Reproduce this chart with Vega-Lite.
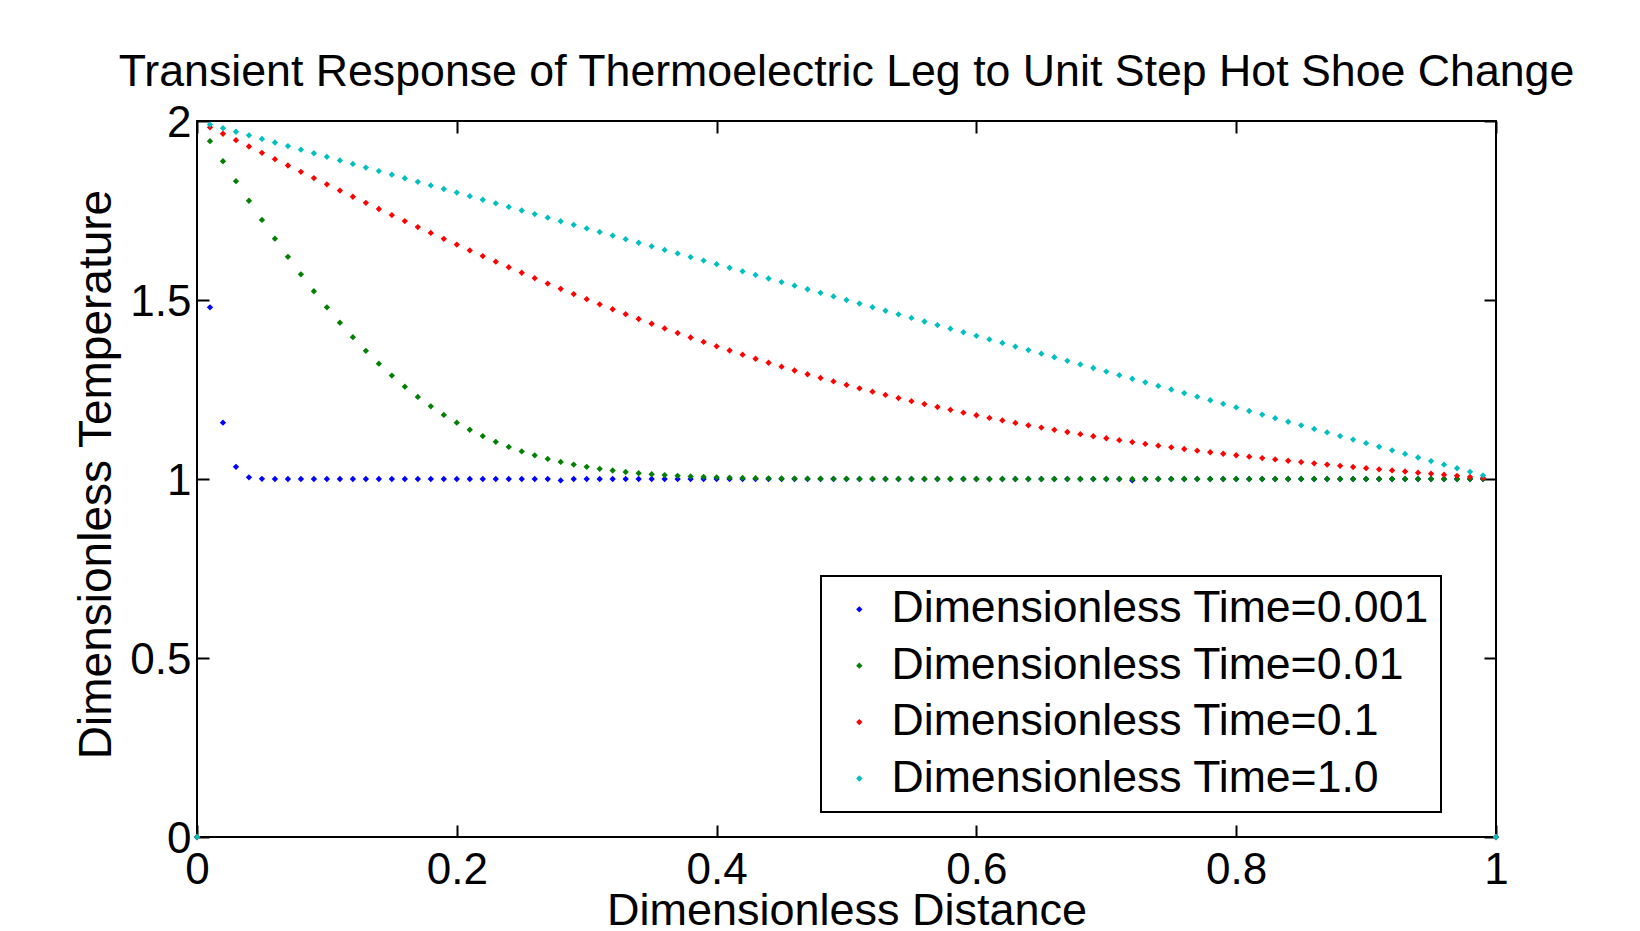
{
"$schema": "https://vega.github.io/schema/vega-lite/v6.json",
"width": 1299, "height": 716,
"autosize": "none",
"padding": {"left": 197, "top": 121, "right": 144, "bottom": 94},
"background": "white",
"config": {"font": "Liberation Sans", "view": {"stroke": "black", "strokeWidth": 2}, "legend": {"strokeWidth": 2}},
"title": {"text": "Transient Response of Thermoelectric Leg to Unit Step Hot Shoe Change", "fontSize": 44.7, "font": "Liberation Sans", "fontWeight": "normal", "color": "black", "frame": "group", "anchor": "middle", "baseline": "alphabetic", "offset": 34, "dy": 64},
"layer": [
{
"data": {"values": [
{"s":"Dimensionless Time=0.001","x":0,"T":0},{"s":"Dimensionless Time=0.001","x":0.01,"T":1.4795},{"s":"Dimensionless Time=0.001","x":0.02,"T":1.1573},{"s":"Dimensionless Time=0.001","x":0.03,"T":1.0339},{"s":"Dimensionless Time=0.001","x":0.04,"T":1.0047},{"s":"Dimensionless Time=0.001","x":0.05,"T":1.0004},{"s":"Dimensionless Time=0.001","x":0.06,"T":1},{"s":"Dimensionless Time=0.001","x":0.07,"T":1},{"s":"Dimensionless Time=0.001","x":0.08,"T":1},{"s":"Dimensionless Time=0.001","x":0.09,"T":1},{"s":"Dimensionless Time=0.001","x":0.1,"T":1},{"s":"Dimensionless Time=0.001","x":0.11,"T":1},{"s":"Dimensionless Time=0.001","x":0.12,"T":1},{"s":"Dimensionless Time=0.001","x":0.13,"T":1},{"s":"Dimensionless Time=0.001","x":0.14,"T":1},{"s":"Dimensionless Time=0.001","x":0.15,"T":1},{"s":"Dimensionless Time=0.001","x":0.16,"T":1},{"s":"Dimensionless Time=0.001","x":0.17,"T":1},{"s":"Dimensionless Time=0.001","x":0.18,"T":1},{"s":"Dimensionless Time=0.001","x":0.19,"T":1},{"s":"Dimensionless Time=0.001","x":0.2,"T":1},{"s":"Dimensionless Time=0.001","x":0.21,"T":1},{"s":"Dimensionless Time=0.001","x":0.22,"T":1},{"s":"Dimensionless Time=0.001","x":0.23,"T":1},{"s":"Dimensionless Time=0.001","x":0.24,"T":1},{"s":"Dimensionless Time=0.001","x":0.25,"T":1},{"s":"Dimensionless Time=0.001","x":0.26,"T":1},{"s":"Dimensionless Time=0.001","x":0.27,"T":1},{"s":"Dimensionless Time=0.001","x":0.28,"T":0.996},{"s":"Dimensionless Time=0.001","x":0.29,"T":1},{"s":"Dimensionless Time=0.001","x":0.3,"T":1},{"s":"Dimensionless Time=0.001","x":0.31,"T":1},{"s":"Dimensionless Time=0.001","x":0.32,"T":1},{"s":"Dimensionless Time=0.001","x":0.33,"T":1},{"s":"Dimensionless Time=0.001","x":0.34,"T":1},{"s":"Dimensionless Time=0.001","x":0.35,"T":1},{"s":"Dimensionless Time=0.001","x":0.36,"T":1},{"s":"Dimensionless Time=0.001","x":0.37,"T":1},{"s":"Dimensionless Time=0.001","x":0.38,"T":1},{"s":"Dimensionless Time=0.001","x":0.39,"T":1},{"s":"Dimensionless Time=0.001","x":0.4,"T":1},{"s":"Dimensionless Time=0.001","x":0.41,"T":1},{"s":"Dimensionless Time=0.001","x":0.42,"T":1},{"s":"Dimensionless Time=0.001","x":0.43,"T":1},{"s":"Dimensionless Time=0.001","x":0.44,"T":1},{"s":"Dimensionless Time=0.001","x":0.45,"T":1},{"s":"Dimensionless Time=0.001","x":0.46,"T":1},{"s":"Dimensionless Time=0.001","x":0.47,"T":1},{"s":"Dimensionless Time=0.001","x":0.48,"T":1},{"s":"Dimensionless Time=0.001","x":0.49,"T":1},{"s":"Dimensionless Time=0.001","x":0.5,"T":1},{"s":"Dimensionless Time=0.001","x":0.51,"T":1},{"s":"Dimensionless Time=0.001","x":0.52,"T":1},{"s":"Dimensionless Time=0.001","x":0.53,"T":1},{"s":"Dimensionless Time=0.001","x":0.54,"T":1},{"s":"Dimensionless Time=0.001","x":0.55,"T":1},{"s":"Dimensionless Time=0.001","x":0.56,"T":1},{"s":"Dimensionless Time=0.001","x":0.57,"T":1},{"s":"Dimensionless Time=0.001","x":0.58,"T":1},{"s":"Dimensionless Time=0.001","x":0.59,"T":1},{"s":"Dimensionless Time=0.001","x":0.6,"T":1},{"s":"Dimensionless Time=0.001","x":0.61,"T":1},{"s":"Dimensionless Time=0.001","x":0.62,"T":1},{"s":"Dimensionless Time=0.001","x":0.63,"T":1},{"s":"Dimensionless Time=0.001","x":0.64,"T":1},{"s":"Dimensionless Time=0.001","x":0.65,"T":1},{"s":"Dimensionless Time=0.001","x":0.66,"T":1},{"s":"Dimensionless Time=0.001","x":0.67,"T":1},{"s":"Dimensionless Time=0.001","x":0.68,"T":1},{"s":"Dimensionless Time=0.001","x":0.69,"T":1},{"s":"Dimensionless Time=0.001","x":0.7,"T":1},{"s":"Dimensionless Time=0.001","x":0.71,"T":1},{"s":"Dimensionless Time=0.001","x":0.72,"T":0.996},{"s":"Dimensionless Time=0.001","x":0.73,"T":1},{"s":"Dimensionless Time=0.001","x":0.74,"T":1},{"s":"Dimensionless Time=0.001","x":0.75,"T":1},{"s":"Dimensionless Time=0.001","x":0.76,"T":1},{"s":"Dimensionless Time=0.001","x":0.77,"T":1},{"s":"Dimensionless Time=0.001","x":0.78,"T":1},{"s":"Dimensionless Time=0.001","x":0.79,"T":1},{"s":"Dimensionless Time=0.001","x":0.8,"T":1},{"s":"Dimensionless Time=0.001","x":0.81,"T":1},{"s":"Dimensionless Time=0.001","x":0.82,"T":1},{"s":"Dimensionless Time=0.001","x":0.83,"T":1},{"s":"Dimensionless Time=0.001","x":0.84,"T":1},{"s":"Dimensionless Time=0.001","x":0.85,"T":1},{"s":"Dimensionless Time=0.001","x":0.86,"T":1},{"s":"Dimensionless Time=0.001","x":0.87,"T":1},{"s":"Dimensionless Time=0.001","x":0.88,"T":1},{"s":"Dimensionless Time=0.001","x":0.89,"T":1},{"s":"Dimensionless Time=0.001","x":0.9,"T":1},{"s":"Dimensionless Time=0.001","x":0.91,"T":1},{"s":"Dimensionless Time=0.001","x":0.92,"T":1},{"s":"Dimensionless Time=0.001","x":0.93,"T":1},{"s":"Dimensionless Time=0.001","x":0.94,"T":1},{"s":"Dimensionless Time=0.001","x":0.95,"T":1},{"s":"Dimensionless Time=0.001","x":0.96,"T":1},{"s":"Dimensionless Time=0.001","x":0.97,"T":1},{"s":"Dimensionless Time=0.001","x":0.98,"T":1},{"s":"Dimensionless Time=0.001","x":0.99,"T":1},{"s":"Dimensionless Time=0.001","x":1,"T":0},
{"s":"Dimensionless Time=0.01","x":0,"T":0},{"s":"Dimensionless Time=0.01","x":0.01,"T":1.9436},{"s":"Dimensionless Time=0.01","x":0.02,"T":1.8875},{"s":"Dimensionless Time=0.01","x":0.03,"T":1.832},{"s":"Dimensionless Time=0.01","x":0.04,"T":1.7773},{"s":"Dimensionless Time=0.01","x":0.05,"T":1.7237},{"s":"Dimensionless Time=0.01","x":0.06,"T":1.6714},{"s":"Dimensionless Time=0.01","x":0.07,"T":1.6206},{"s":"Dimensionless Time=0.01","x":0.08,"T":1.5716},{"s":"Dimensionless Time=0.01","x":0.09,"T":1.5245},{"s":"Dimensionless Time=0.01","x":0.1,"T":1.4795},{"s":"Dimensionless Time=0.01","x":0.11,"T":1.4367},{"s":"Dimensionless Time=0.01","x":0.12,"T":1.3961},{"s":"Dimensionless Time=0.01","x":0.13,"T":1.358},{"s":"Dimensionless Time=0.01","x":0.14,"T":1.3222},{"s":"Dimensionless Time=0.01","x":0.15,"T":1.2888},{"s":"Dimensionless Time=0.01","x":0.16,"T":1.2579},{"s":"Dimensionless Time=0.01","x":0.17,"T":1.2293},{"s":"Dimensionless Time=0.01","x":0.18,"T":1.2031},{"s":"Dimensionless Time=0.01","x":0.19,"T":1.1791},{"s":"Dimensionless Time=0.01","x":0.2,"T":1.1573},{"s":"Dimensionless Time=0.01","x":0.21,"T":1.1376},{"s":"Dimensionless Time=0.01","x":0.22,"T":1.1198},{"s":"Dimensionless Time=0.01","x":0.23,"T":1.1039},{"s":"Dimensionless Time=0.01","x":0.24,"T":1.0897},{"s":"Dimensionless Time=0.01","x":0.25,"T":1.0771},{"s":"Dimensionless Time=0.01","x":0.26,"T":1.066},{"s":"Dimensionless Time=0.01","x":0.27,"T":1.0562},{"s":"Dimensionless Time=0.01","x":0.28,"T":1.0477},{"s":"Dimensionless Time=0.01","x":0.29,"T":1.0403},{"s":"Dimensionless Time=0.01","x":0.3,"T":1.0339},{"s":"Dimensionless Time=0.01","x":0.31,"T":1.0284},{"s":"Dimensionless Time=0.01","x":0.32,"T":1.0237},{"s":"Dimensionless Time=0.01","x":0.33,"T":1.0196},{"s":"Dimensionless Time=0.01","x":0.34,"T":1.0162},{"s":"Dimensionless Time=0.01","x":0.35,"T":1.0133},{"s":"Dimensionless Time=0.01","x":0.36,"T":1.0109},{"s":"Dimensionless Time=0.01","x":0.37,"T":1.0089},{"s":"Dimensionless Time=0.01","x":0.38,"T":1.0072},{"s":"Dimensionless Time=0.01","x":0.39,"T":1.0058},{"s":"Dimensionless Time=0.01","x":0.4,"T":1.0047},{"s":"Dimensionless Time=0.01","x":0.41,"T":1.0037},{"s":"Dimensionless Time=0.01","x":0.42,"T":1.003},{"s":"Dimensionless Time=0.01","x":0.43,"T":1.0024},{"s":"Dimensionless Time=0.01","x":0.44,"T":1.0019},{"s":"Dimensionless Time=0.01","x":0.45,"T":1.0015},{"s":"Dimensionless Time=0.01","x":0.46,"T":1.0011},{"s":"Dimensionless Time=0.01","x":0.47,"T":1.0009},{"s":"Dimensionless Time=0.01","x":0.48,"T":1.0007},{"s":"Dimensionless Time=0.01","x":0.49,"T":1.0005},{"s":"Dimensionless Time=0.01","x":0.5,"T":1.0004},{"s":"Dimensionless Time=0.01","x":0.51,"T":1.0003},{"s":"Dimensionless Time=0.01","x":0.52,"T":1.0002},{"s":"Dimensionless Time=0.01","x":0.53,"T":1.0001},{"s":"Dimensionless Time=0.01","x":0.54,"T":1.0001},{"s":"Dimensionless Time=0.01","x":0.55,"T":1},{"s":"Dimensionless Time=0.01","x":0.56,"T":1},{"s":"Dimensionless Time=0.01","x":0.57,"T":1},{"s":"Dimensionless Time=0.01","x":0.58,"T":1},{"s":"Dimensionless Time=0.01","x":0.59,"T":1},{"s":"Dimensionless Time=0.01","x":0.6,"T":1},{"s":"Dimensionless Time=0.01","x":0.61,"T":1},{"s":"Dimensionless Time=0.01","x":0.62,"T":1},{"s":"Dimensionless Time=0.01","x":0.63,"T":1},{"s":"Dimensionless Time=0.01","x":0.64,"T":1},{"s":"Dimensionless Time=0.01","x":0.65,"T":1},{"s":"Dimensionless Time=0.01","x":0.66,"T":1},{"s":"Dimensionless Time=0.01","x":0.67,"T":1},{"s":"Dimensionless Time=0.01","x":0.68,"T":1},{"s":"Dimensionless Time=0.01","x":0.69,"T":1},{"s":"Dimensionless Time=0.01","x":0.7,"T":1},{"s":"Dimensionless Time=0.01","x":0.71,"T":1},{"s":"Dimensionless Time=0.01","x":0.72,"T":1},{"s":"Dimensionless Time=0.01","x":0.73,"T":1},{"s":"Dimensionless Time=0.01","x":0.74,"T":1},{"s":"Dimensionless Time=0.01","x":0.75,"T":1},{"s":"Dimensionless Time=0.01","x":0.76,"T":1},{"s":"Dimensionless Time=0.01","x":0.77,"T":1},{"s":"Dimensionless Time=0.01","x":0.78,"T":1},{"s":"Dimensionless Time=0.01","x":0.79,"T":1},{"s":"Dimensionless Time=0.01","x":0.8,"T":1},{"s":"Dimensionless Time=0.01","x":0.81,"T":1},{"s":"Dimensionless Time=0.01","x":0.82,"T":1},{"s":"Dimensionless Time=0.01","x":0.83,"T":1},{"s":"Dimensionless Time=0.01","x":0.84,"T":1},{"s":"Dimensionless Time=0.01","x":0.85,"T":1},{"s":"Dimensionless Time=0.01","x":0.86,"T":1},{"s":"Dimensionless Time=0.01","x":0.87,"T":1},{"s":"Dimensionless Time=0.01","x":0.88,"T":1},{"s":"Dimensionless Time=0.01","x":0.89,"T":1},{"s":"Dimensionless Time=0.01","x":0.9,"T":1},{"s":"Dimensionless Time=0.01","x":0.91,"T":1},{"s":"Dimensionless Time=0.01","x":0.92,"T":1},{"s":"Dimensionless Time=0.01","x":0.93,"T":1},{"s":"Dimensionless Time=0.01","x":0.94,"T":1},{"s":"Dimensionless Time=0.01","x":0.95,"T":1},{"s":"Dimensionless Time=0.01","x":0.96,"T":1},{"s":"Dimensionless Time=0.01","x":0.97,"T":1},{"s":"Dimensionless Time=0.01","x":0.98,"T":1},{"s":"Dimensionless Time=0.01","x":0.99,"T":1},{"s":"Dimensionless Time=0.01","x":1,"T":0},
{"s":"Dimensionless Time=0.1","x":0,"T":0},{"s":"Dimensionless Time=0.1","x":0.01,"T":1.9822},{"s":"Dimensionless Time=0.1","x":0.02,"T":1.9643},{"s":"Dimensionless Time=0.1","x":0.03,"T":1.9465},{"s":"Dimensionless Time=0.1","x":0.04,"T":1.9287},{"s":"Dimensionless Time=0.1","x":0.05,"T":1.911},{"s":"Dimensionless Time=0.1","x":0.06,"T":1.8933},{"s":"Dimensionless Time=0.1","x":0.07,"T":1.8756},{"s":"Dimensionless Time=0.1","x":0.08,"T":1.858},{"s":"Dimensionless Time=0.1","x":0.09,"T":1.8405},{"s":"Dimensionless Time=0.1","x":0.1,"T":1.8231},{"s":"Dimensionless Time=0.1","x":0.11,"T":1.8057},{"s":"Dimensionless Time=0.1","x":0.12,"T":1.7885},{"s":"Dimensionless Time=0.1","x":0.13,"T":1.7713},{"s":"Dimensionless Time=0.1","x":0.14,"T":1.7542},{"s":"Dimensionless Time=0.1","x":0.15,"T":1.7373},{"s":"Dimensionless Time=0.1","x":0.16,"T":1.7205},{"s":"Dimensionless Time=0.1","x":0.17,"T":1.7038},{"s":"Dimensionless Time=0.1","x":0.18,"T":1.6873},{"s":"Dimensionless Time=0.1","x":0.19,"T":1.6709},{"s":"Dimensionless Time=0.1","x":0.2,"T":1.6547},{"s":"Dimensionless Time=0.1","x":0.21,"T":1.6386},{"s":"Dimensionless Time=0.1","x":0.22,"T":1.6227},{"s":"Dimensionless Time=0.1","x":0.23,"T":1.607},{"s":"Dimensionless Time=0.1","x":0.24,"T":1.5914},{"s":"Dimensionless Time=0.1","x":0.25,"T":1.5761},{"s":"Dimensionless Time=0.1","x":0.26,"T":1.5609},{"s":"Dimensionless Time=0.1","x":0.27,"T":1.5459},{"s":"Dimensionless Time=0.1","x":0.28,"T":1.5311},{"s":"Dimensionless Time=0.1","x":0.29,"T":1.5166},{"s":"Dimensionless Time=0.1","x":0.3,"T":1.5022},{"s":"Dimensionless Time=0.1","x":0.31,"T":1.488},{"s":"Dimensionless Time=0.1","x":0.32,"T":1.4741},{"s":"Dimensionless Time=0.1","x":0.33,"T":1.4604},{"s":"Dimensionless Time=0.1","x":0.34,"T":1.4469},{"s":"Dimensionless Time=0.1","x":0.35,"T":1.4336},{"s":"Dimensionless Time=0.1","x":0.36,"T":1.4206},{"s":"Dimensionless Time=0.1","x":0.37,"T":1.4078},{"s":"Dimensionless Time=0.1","x":0.38,"T":1.3952},{"s":"Dimensionless Time=0.1","x":0.39,"T":1.3828},{"s":"Dimensionless Time=0.1","x":0.4,"T":1.3707},{"s":"Dimensionless Time=0.1","x":0.41,"T":1.3589},{"s":"Dimensionless Time=0.1","x":0.42,"T":1.3472},{"s":"Dimensionless Time=0.1","x":0.43,"T":1.3358},{"s":"Dimensionless Time=0.1","x":0.44,"T":1.3247},{"s":"Dimensionless Time=0.1","x":0.45,"T":1.3138},{"s":"Dimensionless Time=0.1","x":0.46,"T":1.3031},{"s":"Dimensionless Time=0.1","x":0.47,"T":1.2926},{"s":"Dimensionless Time=0.1","x":0.48,"T":1.2824},{"s":"Dimensionless Time=0.1","x":0.49,"T":1.2725},{"s":"Dimensionless Time=0.1","x":0.5,"T":1.2627},{"s":"Dimensionless Time=0.1","x":0.51,"T":1.2532},{"s":"Dimensionless Time=0.1","x":0.52,"T":1.244},{"s":"Dimensionless Time=0.1","x":0.53,"T":1.2349},{"s":"Dimensionless Time=0.1","x":0.54,"T":1.2261},{"s":"Dimensionless Time=0.1","x":0.55,"T":1.2175},{"s":"Dimensionless Time=0.1","x":0.56,"T":1.2092},{"s":"Dimensionless Time=0.1","x":0.57,"T":1.2011},{"s":"Dimensionless Time=0.1","x":0.58,"T":1.1931},{"s":"Dimensionless Time=0.1","x":0.59,"T":1.1854},{"s":"Dimensionless Time=0.1","x":0.6,"T":1.178},{"s":"Dimensionless Time=0.1","x":0.61,"T":1.1707},{"s":"Dimensionless Time=0.1","x":0.62,"T":1.1636},{"s":"Dimensionless Time=0.1","x":0.63,"T":1.1567},{"s":"Dimensionless Time=0.1","x":0.64,"T":1.15},{"s":"Dimensionless Time=0.1","x":0.65,"T":1.1436},{"s":"Dimensionless Time=0.1","x":0.66,"T":1.1373},{"s":"Dimensionless Time=0.1","x":0.67,"T":1.1312},{"s":"Dimensionless Time=0.1","x":0.68,"T":1.1252},{"s":"Dimensionless Time=0.1","x":0.69,"T":1.1195},{"s":"Dimensionless Time=0.1","x":0.7,"T":1.1139},{"s":"Dimensionless Time=0.1","x":0.71,"T":1.1085},{"s":"Dimensionless Time=0.1","x":0.72,"T":1.1032},{"s":"Dimensionless Time=0.1","x":0.73,"T":1.0981},{"s":"Dimensionless Time=0.1","x":0.74,"T":1.0932},{"s":"Dimensionless Time=0.1","x":0.75,"T":1.0884},{"s":"Dimensionless Time=0.1","x":0.76,"T":1.0837},{"s":"Dimensionless Time=0.1","x":0.77,"T":1.0792},{"s":"Dimensionless Time=0.1","x":0.78,"T":1.0748},{"s":"Dimensionless Time=0.1","x":0.79,"T":1.0705},{"s":"Dimensionless Time=0.1","x":0.8,"T":1.0664},{"s":"Dimensionless Time=0.1","x":0.81,"T":1.0623},{"s":"Dimensionless Time=0.1","x":0.82,"T":1.0584},{"s":"Dimensionless Time=0.1","x":0.83,"T":1.0546},{"s":"Dimensionless Time=0.1","x":0.84,"T":1.0509},{"s":"Dimensionless Time=0.1","x":0.85,"T":1.0473},{"s":"Dimensionless Time=0.1","x":0.86,"T":1.0437},{"s":"Dimensionless Time=0.1","x":0.87,"T":1.0402},{"s":"Dimensionless Time=0.1","x":0.88,"T":1.0369},{"s":"Dimensionless Time=0.1","x":0.89,"T":1.0335},{"s":"Dimensionless Time=0.1","x":0.9,"T":1.0303},{"s":"Dimensionless Time=0.1","x":0.91,"T":1.0271},{"s":"Dimensionless Time=0.1","x":0.92,"T":1.024},{"s":"Dimensionless Time=0.1","x":0.93,"T":1.0209},{"s":"Dimensionless Time=0.1","x":0.94,"T":1.0178},{"s":"Dimensionless Time=0.1","x":0.95,"T":1.0148},{"s":"Dimensionless Time=0.1","x":0.96,"T":1.0118},{"s":"Dimensionless Time=0.1","x":0.97,"T":1.0088},{"s":"Dimensionless Time=0.1","x":0.98,"T":1.0059},{"s":"Dimensionless Time=0.1","x":0.99,"T":1.0029},{"s":"Dimensionless Time=0.1","x":1,"T":0},
{"s":"Dimensionless Time=1.0","x":0,"T":0},{"s":"Dimensionless Time=1.0","x":0.01,"T":1.99},{"s":"Dimensionless Time=1.0","x":0.02,"T":1.98},{"s":"Dimensionless Time=1.0","x":0.03,"T":1.97},{"s":"Dimensionless Time=1.0","x":0.04,"T":1.96},{"s":"Dimensionless Time=1.0","x":0.05,"T":1.95},{"s":"Dimensionless Time=1.0","x":0.06,"T":1.94},{"s":"Dimensionless Time=1.0","x":0.07,"T":1.93},{"s":"Dimensionless Time=1.0","x":0.08,"T":1.92},{"s":"Dimensionless Time=1.0","x":0.09,"T":1.91},{"s":"Dimensionless Time=1.0","x":0.1,"T":1.9},{"s":"Dimensionless Time=1.0","x":0.11,"T":1.89},{"s":"Dimensionless Time=1.0","x":0.12,"T":1.88},{"s":"Dimensionless Time=1.0","x":0.13,"T":1.87},{"s":"Dimensionless Time=1.0","x":0.14,"T":1.86},{"s":"Dimensionless Time=1.0","x":0.15,"T":1.85},{"s":"Dimensionless Time=1.0","x":0.16,"T":1.84},{"s":"Dimensionless Time=1.0","x":0.17,"T":1.83},{"s":"Dimensionless Time=1.0","x":0.18,"T":1.82},{"s":"Dimensionless Time=1.0","x":0.19,"T":1.81},{"s":"Dimensionless Time=1.0","x":0.2,"T":1.8},{"s":"Dimensionless Time=1.0","x":0.21,"T":1.79},{"s":"Dimensionless Time=1.0","x":0.22,"T":1.78},{"s":"Dimensionless Time=1.0","x":0.23,"T":1.77},{"s":"Dimensionless Time=1.0","x":0.24,"T":1.76},{"s":"Dimensionless Time=1.0","x":0.25,"T":1.75},{"s":"Dimensionless Time=1.0","x":0.26,"T":1.74},{"s":"Dimensionless Time=1.0","x":0.27,"T":1.73},{"s":"Dimensionless Time=1.0","x":0.28,"T":1.72},{"s":"Dimensionless Time=1.0","x":0.29,"T":1.71},{"s":"Dimensionless Time=1.0","x":0.3,"T":1.7},{"s":"Dimensionless Time=1.0","x":0.31,"T":1.69},{"s":"Dimensionless Time=1.0","x":0.32,"T":1.68},{"s":"Dimensionless Time=1.0","x":0.33,"T":1.67},{"s":"Dimensionless Time=1.0","x":0.34,"T":1.66},{"s":"Dimensionless Time=1.0","x":0.35,"T":1.65},{"s":"Dimensionless Time=1.0","x":0.36,"T":1.64},{"s":"Dimensionless Time=1.0","x":0.37,"T":1.63},{"s":"Dimensionless Time=1.0","x":0.38,"T":1.62},{"s":"Dimensionless Time=1.0","x":0.39,"T":1.61},{"s":"Dimensionless Time=1.0","x":0.4,"T":1.6},{"s":"Dimensionless Time=1.0","x":0.41,"T":1.59},{"s":"Dimensionless Time=1.0","x":0.42,"T":1.58},{"s":"Dimensionless Time=1.0","x":0.43,"T":1.57},{"s":"Dimensionless Time=1.0","x":0.44,"T":1.56},{"s":"Dimensionless Time=1.0","x":0.45,"T":1.55},{"s":"Dimensionless Time=1.0","x":0.46,"T":1.54},{"s":"Dimensionless Time=1.0","x":0.47,"T":1.53},{"s":"Dimensionless Time=1.0","x":0.48,"T":1.52},{"s":"Dimensionless Time=1.0","x":0.49,"T":1.51},{"s":"Dimensionless Time=1.0","x":0.5,"T":1.5},{"s":"Dimensionless Time=1.0","x":0.51,"T":1.49},{"s":"Dimensionless Time=1.0","x":0.52,"T":1.48},{"s":"Dimensionless Time=1.0","x":0.53,"T":1.47},{"s":"Dimensionless Time=1.0","x":0.54,"T":1.46},{"s":"Dimensionless Time=1.0","x":0.55,"T":1.45},{"s":"Dimensionless Time=1.0","x":0.56,"T":1.44},{"s":"Dimensionless Time=1.0","x":0.57,"T":1.43},{"s":"Dimensionless Time=1.0","x":0.58,"T":1.42},{"s":"Dimensionless Time=1.0","x":0.59,"T":1.41},{"s":"Dimensionless Time=1.0","x":0.6,"T":1.4},{"s":"Dimensionless Time=1.0","x":0.61,"T":1.39},{"s":"Dimensionless Time=1.0","x":0.62,"T":1.38},{"s":"Dimensionless Time=1.0","x":0.63,"T":1.37},{"s":"Dimensionless Time=1.0","x":0.64,"T":1.36},{"s":"Dimensionless Time=1.0","x":0.65,"T":1.35},{"s":"Dimensionless Time=1.0","x":0.66,"T":1.34},{"s":"Dimensionless Time=1.0","x":0.67,"T":1.33},{"s":"Dimensionless Time=1.0","x":0.68,"T":1.32},{"s":"Dimensionless Time=1.0","x":0.69,"T":1.31},{"s":"Dimensionless Time=1.0","x":0.7,"T":1.3},{"s":"Dimensionless Time=1.0","x":0.71,"T":1.29},{"s":"Dimensionless Time=1.0","x":0.72,"T":1.28},{"s":"Dimensionless Time=1.0","x":0.73,"T":1.27},{"s":"Dimensionless Time=1.0","x":0.74,"T":1.26},{"s":"Dimensionless Time=1.0","x":0.75,"T":1.25},{"s":"Dimensionless Time=1.0","x":0.76,"T":1.24},{"s":"Dimensionless Time=1.0","x":0.77,"T":1.23},{"s":"Dimensionless Time=1.0","x":0.78,"T":1.22},{"s":"Dimensionless Time=1.0","x":0.79,"T":1.21},{"s":"Dimensionless Time=1.0","x":0.8,"T":1.2},{"s":"Dimensionless Time=1.0","x":0.81,"T":1.19},{"s":"Dimensionless Time=1.0","x":0.82,"T":1.18},{"s":"Dimensionless Time=1.0","x":0.83,"T":1.17},{"s":"Dimensionless Time=1.0","x":0.84,"T":1.16},{"s":"Dimensionless Time=1.0","x":0.85,"T":1.15},{"s":"Dimensionless Time=1.0","x":0.86,"T":1.14},{"s":"Dimensionless Time=1.0","x":0.87,"T":1.13},{"s":"Dimensionless Time=1.0","x":0.88,"T":1.12},{"s":"Dimensionless Time=1.0","x":0.89,"T":1.11},{"s":"Dimensionless Time=1.0","x":0.9,"T":1.1},{"s":"Dimensionless Time=1.0","x":0.91,"T":1.09},{"s":"Dimensionless Time=1.0","x":0.92,"T":1.08},{"s":"Dimensionless Time=1.0","x":0.93,"T":1.07},{"s":"Dimensionless Time=1.0","x":0.94,"T":1.06},{"s":"Dimensionless Time=1.0","x":0.95,"T":1.05},{"s":"Dimensionless Time=1.0","x":0.96,"T":1.04},{"s":"Dimensionless Time=1.0","x":0.97,"T":1.03},{"s":"Dimensionless Time=1.0","x":0.98,"T":1.02},{"s":"Dimensionless Time=1.0","x":0.99,"T":1.01},{"s":"Dimensionless Time=1.0","x":1,"T":0}
]},
"mark": {"type": "point", "shape": "diamond", "filled": true, "size": 40, "opacity": 1, "strokeWidth": 0},
"encoding": {
"x": {"field": "x", "type": "quantitative", "scale": {"domain": [0, 1], "nice": false, "zero": false},
 "axis": {"orient": "bottom", "values": [0, 0.2, 0.4, 0.6, 0.8, 1], "format": "~g", "grid": false, "domain": false,
  "tickSize": -12, "tickWidth": 2, "tickColor": "black",
  "labelFont": "Liberation Sans", "labelFontSize": 44, "labelColor": "black", "labelBaseline": "alphabetic", "labelPadding": 58, "labelFlush": false, "labelOverlap": false, "labelBound": false,
  "title": "Dimensionless Distance", "titleFont": "Liberation Sans", "titleFontSize": 45, "titleFontWeight": "normal", "titleColor": "black", "titleBaseline": "alphabetic", "titleAlign": "center", "titleX": 649.5, "titleY": 87}},
"y": {"field": "T", "type": "quantitative", "scale": {"domain": [0, 2], "nice": false, "zero": false},
 "axis": {"orient": "left", "values": [0, 0.5, 1, 1.5, 2], "format": "~g", "grid": false, "domain": false,
  "tickSize": -12, "tickWidth": 2, "tickColor": "black",
  "labelFont": "Liberation Sans", "labelFontSize": 44, "labelColor": "black", "labelBaseline": "alphabetic", "labelAlign": "right", "labelOffset": 15, "labelPadding": 18, "labelFlush": false, "labelOverlap": false, "labelBound": false,
  "title": "Dimensionless Temperature", "titleFont": "Liberation Sans", "titleFontSize": 46, "titleFontWeight": "normal", "titleColor": "black", "titleBaseline": "alphabetic", "titleAlign": "center", "titleAngle": -90, "titleX": -87, "titleY": 353}},
"color": {"field": "s", "type": "nominal",
 "scale": {"domain": ["Dimensionless Time=0.001", "Dimensionless Time=0.01", "Dimensionless Time=0.1", "Dimensionless Time=1.0"], "range": ["#0000FF", "#008000", "#FF0000", "#00BFBF"]},
 "legend": {"orient": "none", "legendX": 624, "legendY": 455, "title": null, "padding": 11, "strokeColor": "black", "fillColor": "white",
  "symbolType": "diamond", "symbolSize": 40, "symbolStrokeWidth": 0, "symbolOffset": 5, "labelOffset": 10, "rowPadding": 11.4,
  "labelFont": "Liberation Sans", "labelFontSize": 44.6, "labelColor": "black", "labelLimit": 2000}}
}
},
{
"data": {"values": [{"x": 0, "T": 0}]},
"mark": {"type": "point", "opacity": 0},
"encoding": {
"x": {"field": "x", "type": "quantitative", "axis": {"orient": "top", "values": [0, 0.2, 0.4, 0.6, 0.8, 1], "labels": false, "title": null, "grid": false, "domain": false, "tickSize": -12, "tickWidth": 2, "tickColor": "black"}},
"y": {"field": "T", "type": "quantitative", "axis": {"orient": "right", "values": [0, 0.5, 1, 1.5, 2], "labels": false, "title": null, "grid": false, "domain": false, "tickSize": -12, "tickWidth": 2, "tickColor": "black"}}
}
}
],
"resolve": {"axis": {"x": "independent", "y": "independent"}}
}
